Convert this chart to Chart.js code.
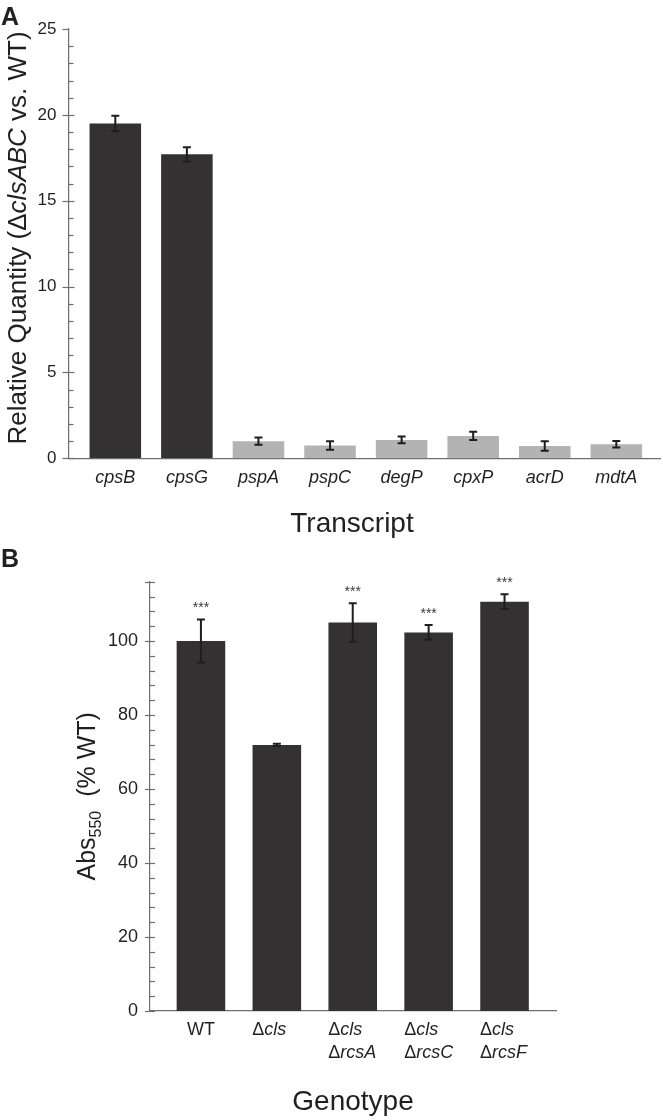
<!DOCTYPE html>
<html><head><meta charset="utf-8">
<script src="https://cdn.jsdelivr.net/npm/chart.js@4.4.1/dist/chart.umd.min.js"></script>
<style>
html,body{margin:0;padding:0;background:#fff;}
#wrap{position:relative;width:663px;height:1120px;overflow:hidden;background:#fff;}
canvas{position:absolute;left:0;}
#ca{top:0}
#cb{top:540px}
</style></head><body>
<div id="wrap"><canvas id="ca" width="663" height="540"></canvas><canvas id="cb" width="663" height="580"></canvas></div>
<script>
// ---------- Panel A data ----------
const transcripts = ['cpsB','cpsG','pspA','pspC','degP','cpxP','acrD','mdtA'];
const relQuantity = [19.5, 17.7, 1.0, 0.75, 1.07, 1.3, 0.72, 0.82];
const relQuantityErr = [0.45, 0.42, 0.21, 0.25, 0.2, 0.24, 0.28, 0.19];
const yTicksA = [0, 5, 10, 15, 20, 25];

// ---------- Panel B data ----------
const genotypes = [['WT'], ['Δcls'], ['Δcls','ΔrcsA'], ['Δcls','ΔrcsC'], ['Δcls','ΔrcsF']];
const absPct = [100, 71.9, 105, 102.3, 110.6];
const absPctErr = [5.8, 0.3, 5.2, 2.0, 2.0];
const significance = ['***', '', '***', '***', '***'];
const yTicksB = [0, 20, 40, 60, 80, 100];

const FF = '"Liberation Sans", Arial, Helvetica, sans-serif';
const TXT = '#231f20';
const AX = '#6d6e71';
const DARK = '#333132';
const GRAY = '#b3b3b3';
Chart.defaults.color = TXT;
Chart.defaults.font.family = FF;

function richWidth(ctx, segs){ let w=0; for(const s of segs){ctx.font=s.font; w+=ctx.measureText(s.text).width;} return w; }
function drawRich(ctx, segs, x, y, rot, align){
  ctx.save(); ctx.translate(x,y); if(rot) ctx.rotate(-Math.PI/2);
  const w = richWidth(ctx, segs);
  let cx = align==='left' ? 0 : -w/2;
  ctx.textBaseline='alphabetic'; ctx.textAlign='left'; ctx.fillStyle=TXT;
  for(const s of segs){ ctx.font=s.font; ctx.fillText(s.text, cx, s.dy||0); cx += ctx.measureText(s.text).width; }
  ctx.restore();
}

const errorBars = {
  id:'errorBars',
  afterDatasetsDraw(chart, args, o){
    const meta = chart.getDatasetMeta(0), ys = chart.scales.y, ctx = chart.ctx;
    const vals = chart.data.datasets[0].data;
    ctx.save();
    meta.data.forEach((bar,i)=>{
      const v = vals[i].y, e = o.errors[i];
      const x = bar.x, t = ys.getPixelForValue(v+e), b = ys.getPixelForValue(v-e);
      ctx.strokeStyle=o.color; ctx.lineWidth=o.lineWidth;
      ctx.beginPath(); ctx.moveTo(x,t); ctx.lineTo(x,b);
      ctx.moveTo(x-o.cap/2,t); ctx.lineTo(x+o.cap/2,t);
      ctx.moveTo(x-o.cap/2,b); ctx.lineTo(x+o.cap/2,b); ctx.stroke();
      if(o.marks && o.marks[i]){
        ctx.fillStyle='#3a3a3a'; ctx.font=`14px ${FF}`; ctx.textAlign='center'; ctx.textBaseline='alphabetic';
        ctx.fillText(o.marks[i], x, t - o.markGap);
      }
    });
    ctx.restore();
  }
};

const axisTicks = {
  id:'axisTicks',
  afterDraw(chart, args, o){
    const ys = chart.scales.y, ctx = chart.ctx, x0 = chart.chartArea.left;
    ctx.save(); ctx.strokeStyle=AX; ctx.lineWidth=1.2;
    const n = Math.round((ys.max - ys.min)/o.minorStep);
    for(let k=0;k<=n;k++){
      const v = ys.min + k*o.minorStep;
      const y = Math.round(ys.getPixelForValue(v))+0.5;
      const isTop = k===n;
      const major = o.majors.includes(v) || isTop;
      ctx.beginPath();
      if(major){ ctx.moveTo(x0-o.majorOut,y); ctx.lineTo(x0+(isTop?o.topIn:o.majorIn),y); }
      else { ctx.moveTo(x0,y); ctx.lineTo(x0+o.minorIn,y); }
      ctx.stroke();
    }
    ctx.restore();
  }
};

const decoA = {
  id:'decoA',
  afterDraw(chart){
    const ctx = chart.ctx;
    ctx.save(); ctx.fillStyle=TXT; ctx.font=`bold 25px ${FF}`; ctx.textAlign='left'; ctx.fillText('A', 1, 25); ctx.restore();
    drawRich(ctx, [
      {text:'Relative Quantity (Δ', font:`26px ${FF}`},
      {text:'clsABC', font:`italic 26px ${FF}`},
      {text:' vs. WT)', font:`26px ${FF}`}
    ], 25.5, 238, true);
    drawRich(ctx, [{text:'Transcript', font:`28px ${FF}`}], 352, 532, false);
  }
};

const decoB = {
  id:'decoB',
  afterDraw(chart){
    const ctx = chart.ctx, ca = chart.chartArea, xs = chart.scales.x;
    ctx.save(); ctx.fillStyle=TXT; ctx.font=`bold 25px ${FF}`; ctx.textAlign='left'; ctx.fillText('B', 1, 27); ctx.restore();
    drawRich(ctx, [
      {text:'Abs', font:`25px ${FF}`},
      {text:'550', font:`16px ${FF}`, dy:6},
      {text:'  (% WT)', font:`25px ${FF}`}
    ], 95, (ca.top+ca.bottom)/2, true);
    drawRich(ctx, [{text:'Genotype', font:`28px ${FF}`}], (ca.left+ca.right)/2, 570, false);
    // tick labels
    const up = `18px ${FF}`, it = `italic 18px ${FF}`;
    const segsOf = s => s.startsWith('Δ') ? [{text:'Δ',font:up},{text:s.slice(1),font:it}] : [{text:s,font:up}];
    let maxW = 0;
    genotypes.forEach(lines => lines.forEach(l => { if(l.startsWith('Δ')) maxW = Math.max(maxW, richWidth(ctx, segsOf(l))); }));
    genotypes.forEach((lines,i)=>{
      const x = xs.getPixelForValue(i);
      lines.forEach((l,j)=>{
        const y = ca.bottom + 24 + j*23;
        if(l.startsWith('Δ')) drawRich(ctx, segsOf(l), x - maxW/2, y, false, 'left');
        else drawRich(ctx, segsOf(l), x, y, false);
      });
    });
  }
};

// ---------- Chart A ----------
new Chart(document.getElementById('ca'), {
  type:'bar',
  data:{ datasets:[{
    data: transcripts.map((c,i)=>({x:i, y:relQuantity[i]})),
    backgroundColor: ctx => ctx.dataIndex < 2 ? DARK : GRAY,
    borderWidth:0, barPercentage:0.72, categoryPercentage:1
  }]},
  options:{
    responsive:false, animation:false,
    layout:{padding:{top:29, left:0, right:3, bottom:0}},
    plugins:{ legend:{display:false}, tooltip:{enabled:false},
      errorBars:{errors:relQuantityErr, cap:8, lineWidth:2, color:'#1e1e1e'},
      axisTicks:{minorStep:1, majors:yTicksA, majorOut:6, majorIn:6, topIn:0, minorIn:5}
    },
    scales:{
      x:{ type:'linear', min:-0.654, max:7.61, offset:false,
        afterBuildTicks: s => { s.ticks = transcripts.map((_,i)=>({value:i})); },
        afterFit: s => { s.height = 81.7; },
        grid:{display:false, drawTicks:false, offset:false},
        border:{display:true, color:AX, width:1.2},
        ticks:{ autoSkip:false, maxRotation:0, padding:9, color:TXT,
          font:{family:FF, size:18, style:'italic'},
          callback: v => transcripts[v] }
      },
      y:{ min:0, max:25,
        afterBuildTicks: s => { s.ticks = yTicksA.map(v=>({value:v})); },
        afterFit: s => { s.width = 68.5; },
        grid:{display:false, drawTicks:false},
        border:{display:true, color:AX, width:1.2},
        ticks:{ padding:12, color:TXT, font:{family:FF, size:17} }
      }
    }
  },
  plugins:[errorBars, axisTicks, decoA]
});

// ---------- Chart B ----------
new Chart(document.getElementById('cb'), {
  type:'bar',
  data:{ datasets:[{
    data: genotypes.map((g,i)=>({x:i, y:absPct[i]})),
    backgroundColor: DARK,
    borderWidth:0, barPercentage:0.64, categoryPercentage:1
  }]},
  options:{
    responsive:false, animation:false,
    layout:{padding:{top:41.7, left:0, right:107, bottom:0}},
    plugins:{ legend:{display:false}, tooltip:{enabled:false},
      errorBars:{errors:absPctErr, cap:8, lineWidth:2, color:'#1e1e1e', marks:significance, markGap:7.5},
      axisTicks:{minorStep:4, majors:yTicksB, majorOut:5, majorIn:5, topIn:5, minorIn:5}
    },
    scales:{
      x:{ type:'linear', min:-0.671, max:4.678, offset:false,
        afterBuildTicks: s => { s.ticks = genotypes.map((_,i)=>({value:i})); },
        afterFit: s => { s.height = 109; },
        grid:{display:false, drawTicks:false, offset:false},
        border:{display:true, color:AX, width:1.2},
        ticks:{ display:false }
      },
      y:{ min:0, max:116,
        afterBuildTicks: s => { s.ticks = yTicksB.map(v=>({value:v})); },
        afterFit: s => { s.width = 150; },
        grid:{display:false, drawTicks:false},
        border:{display:true, color:AX, width:1.2},
        ticks:{ padding:12, color:TXT, font:{family:FF, size:18} }
      }
    }
  },
  plugins:[errorBars, axisTicks, decoB]
});
</script>
</body></html>
